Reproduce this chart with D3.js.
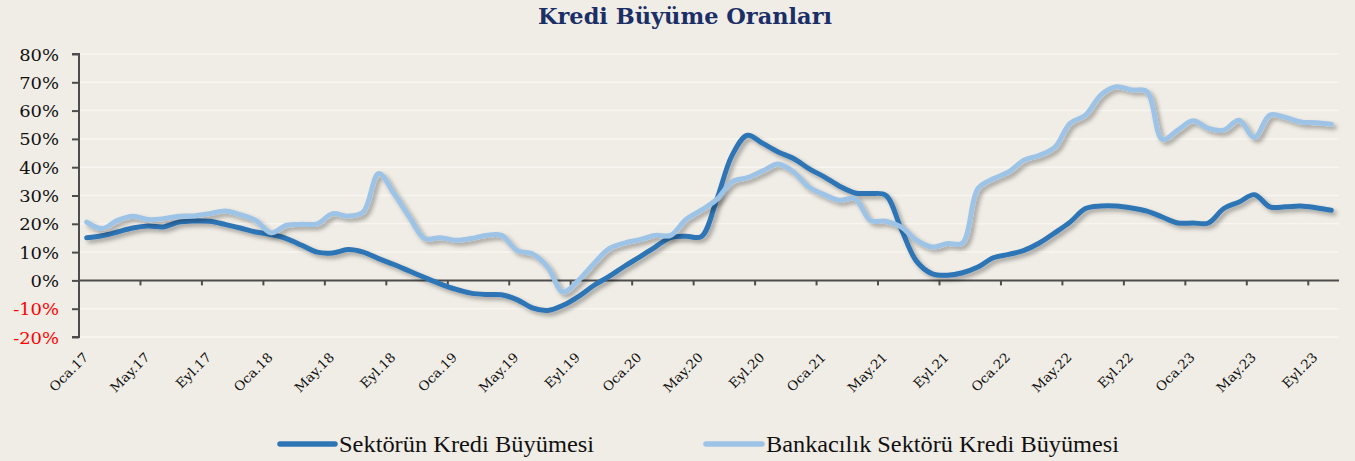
<!DOCTYPE html>
<html>
<head>
<meta charset="utf-8">
<script src="https://cdn.jsdelivr.net/npm/d3@7"></script>
<style>
  html, body { margin: 0; padding: 0; background: #f0ede6; }
  svg { display: block; }
</style>
</head>
<body>
<svg id="chart" width="1355" height="461"></svg>
<script>
// ---- data ----
const months = [
  "Oca.17","Şub.17","Mar.17","Nis.17","May.17","Haz.17","Tem.17","Ağu.17","Eyl.17","Eki.17","Kas.17","Ara.17",
  "Oca.18","Şub.18","Mar.18","Nis.18","May.18","Haz.18","Tem.18","Ağu.18","Eyl.18","Eki.18","Kas.18","Ara.18",
  "Oca.19","Şub.19","Mar.19","Nis.19","May.19","Haz.19","Tem.19","Ağu.19","Eyl.19","Eki.19","Kas.19","Ara.19",
  "Oca.20","Şub.20","Mar.20","Nis.20","May.20","Haz.20","Tem.20","Ağu.20","Eyl.20","Eki.20","Kas.20","Ara.20",
  "Oca.21","Şub.21","Mar.21","Nis.21","May.21","Haz.21","Tem.21","Ağu.21","Eyl.21","Eki.21","Kas.21","Ara.21",
  "Oca.22","Şub.22","Mar.22","Nis.22","May.22","Haz.22","Tem.22","Ağu.22","Eyl.22","Eki.22","Kas.22","Ara.22",
  "Oca.23","Şub.23","Mar.23","Nis.23","May.23","Haz.23","Tem.23","Ağu.23","Eyl.23","Eki.23"
];
// x-axis labels as printed (every 4th month)
const tickLabels = ["Oca.17","May.17","Eyl.17","Oca.18","May.18","Eyl.18","Oca.19","May.19","Eyl.19",
  "Oca.20","May.20","Eyl.20","Oca.21","May.21","Eyl.21","Oca.22","May.22","Eyl.22","Oca.23","May.23","Eyl.23"];
const yTicks = [-20,-10,0,10,20,30,40,50,60,70,80];

const sektorKredi = [
  15.1,15.8,17.1,18.5,19.2,18.9,20.6,21.0,20.9,19.8,18.5,17.1,
  16.2,14.8,12.4,10.0,9.7,10.9,10.0,7.7,5.6,3.3,1.0,-1.2,
  -3.1,-4.5,-5.0,-5.1,-6.8,-9.7,-10.6,-8.8,-5.7,-1.8,1.4,5.0,
  8.3,11.8,15.1,15.6,15.5,28.5,44.2,51.3,48.4,45.4,43.1,39.5,
  36.6,33.3,30.9,30.7,30.1,18.3,6.8,2.4,1.8,2.7,4.7,8.0,
  9.2,10.6,13.2,16.8,20.6,25.4,26.3,26.3,25.6,24.5,22.4,20.3,
  20.3,20.3,25.4,27.7,30.3,26.0,26.0,26.3,25.7,24.8
];
const bankaKredi = [
  20.6,18.3,21.2,22.7,21.5,21.8,22.7,22.8,23.6,24.5,23.2,21.2,
  16.8,19.5,19.8,20.0,23.6,22.7,24.2,37.8,30.7,22.4,14.8,15.1,
  14.2,14.8,15.9,15.9,10.6,9.4,4.7,-4.1,0.0,5.9,11.2,13.2,
  14.4,15.9,15.9,21.5,24.8,28.6,34.8,36.3,38.7,41.1,38.3,33.0,
  30.3,28.3,28.9,21.2,20.9,18.9,14.2,11.8,13.0,13.2,32.4,35.9,
  38.3,42.5,44.2,47.0,55.5,58.4,65.5,68.4,67.3,66.7,49.8,53.1,
  56.4,53.7,53.1,56.6,50.5,58.4,57.6,56.0,55.7,55.2
];
const seriesNames = ["Sektörün Kredi Büyümesi","Bankacılık Sektörü Kredi Büyümesi"];
const seriesColors = ["#2e75b6","#9dc3e6"];

// ---- layout ----
const svg = d3.select("#chart");
const W = 1355, H = 461;
const plot = {left: 79, right: 1339, top: 54, bottom: 337};

svg.append("rect").attr("width", W).attr("height", H).attr("fill", "#f0ede6");

const defs = svg.append("defs");
const f = defs.append("filter").attr("id","shadow").attr("x","-5%").attr("y","-20%").attr("width","110%").attr("height","140%");
f.append("feDropShadow").attr("dx",3).attr("dy",3).attr("stdDeviation",2)
  .attr("flood-color","#000").attr("flood-opacity",0.32);

const x = d3.scaleBand().domain(months).range([plot.left, plot.right]).paddingInner(0).paddingOuter(0);
const y = d3.scaleLinear().domain([-20, 80]).range([plot.bottom, plot.top]);
const cx = m => x(m) + x.bandwidth() / 2;

// gridlines
svg.append("g").selectAll("line").data(yTicks.filter(t => t !== 0)).join("line")
  .attr("x1", plot.left).attr("x2", plot.right)
  .attr("y1", d => y(d)).attr("y2", d => y(d))
  .attr("stroke", "#f8f6f2").attr("stroke-width", 1.5);

// y axis
const yAxis = d3.axisLeft(y).tickValues(yTicks).tickSize(7).tickPadding(13)
  .tickFormat(d => d + "%");
const gy = svg.append("g").attr("transform", `translate(${plot.left},0)`).call(yAxis);
gy.select(".domain").attr("stroke", "#4d4d4d").attr("stroke-width", 2)
  .attr("d", `M-7,${y(80)}H0V${y(-20)}H-7`);
gy.selectAll(".tick line").attr("stroke", "#4d4d4d").attr("stroke-width", 2);
gy.selectAll(".tick text")
  .attr("font-family", "DejaVu Serif").attr("font-size", 16)
  .attr("fill", d => d < 0 ? "#ff0000" : "#111")
  .attr("dy", "0.38em")
  .each(function() {
    const len = this.getComputedTextLength();
    d3.select(this).attr("textLength", len * 1.12).attr("lengthAdjust", "spacingAndGlyphs");
  });

// zero line + x ticks
const labelled = months.filter((m, i) => i % 4 === 0);
const xAxis = d3.axisBottom(x).tickValues(labelled.slice(1)).tickSize(5).tickFormat("");
const gx = svg.append("g").attr("transform", `translate(0,${y(0)})`).call(xAxis);
gx.select(".domain").attr("stroke", "#4d4d4d").attr("stroke-width", 2)
  .attr("d", `M${plot.left},0H${plot.right}`);
gx.selectAll(".tick").attr("transform", d => `translate(${x(d)},0)`);
gx.selectAll(".tick line").attr("stroke", "#4d4d4d").attr("stroke-width", 2);

// x labels (low position, rotated)
svg.append("g").selectAll("text").data(labelled).join("text")
  .attr("transform", d => `translate(${cx(d) + 2.5},358) rotate(-45)`)
  .attr("text-anchor", "end")
  .attr("font-family", "DejaVu Serif").attr("font-size", 13)
  .attr("fill", "#111")
  .text((d, i) => tickLabels[i])
  .each(function() {
    const len = this.getComputedTextLength();
    d3.select(this).attr("textLength", len * 1.05).attr("lengthAdjust", "spacingAndGlyphs");
  });

// lines
const line = d3.line().x((d, i) => cx(months[i])).y(d => y(d)).curve(d3.curveCatmullRom.alpha(0.5));
[sektorKredi, bankaKredi].forEach((s, k) => {
  svg.append("path").datum(s).attr("d", line)
    .attr("fill", "none").attr("stroke", seriesColors[k]).attr("stroke-width", 5)
    .attr("stroke-linejoin", "round").attr("stroke-linecap", "round")
    .attr("filter", "url(#shadow)");
});

// title
svg.append("text").attr("x", 538).attr("y", 24)
  .attr("font-family", "DejaVu Serif").attr("font-weight", "bold").attr("font-size", 21.5)
  .attr("fill", "#1b2f66")
  .attr("textLength", 294).attr("lengthAdjust", "spacingAndGlyphs")
  .text("Kredi Büyüme Oranları");

// legend
const legend = [
  {x1: 280, x2: 335, tx: 339, tl: 255},
  {x1: 706, x2: 762, tx: 766, tl: 353}
];
legend.forEach((L, k) => {
  svg.append("line").attr("x1", L.x1).attr("x2", L.x2).attr("y1", 444).attr("y2", 444)
    .attr("stroke", seriesColors[k]).attr("stroke-width", 5.5).attr("stroke-linecap", "round");
  svg.append("text").attr("x", L.tx).attr("y", 452)
    .attr("font-family", "Liberation Serif").attr("font-size", 24).attr("fill", "#111")
    .attr("textLength", L.tl).attr("lengthAdjust", "spacingAndGlyphs")
    .text(seriesNames[k]);
});
</script>
</body>
</html>
